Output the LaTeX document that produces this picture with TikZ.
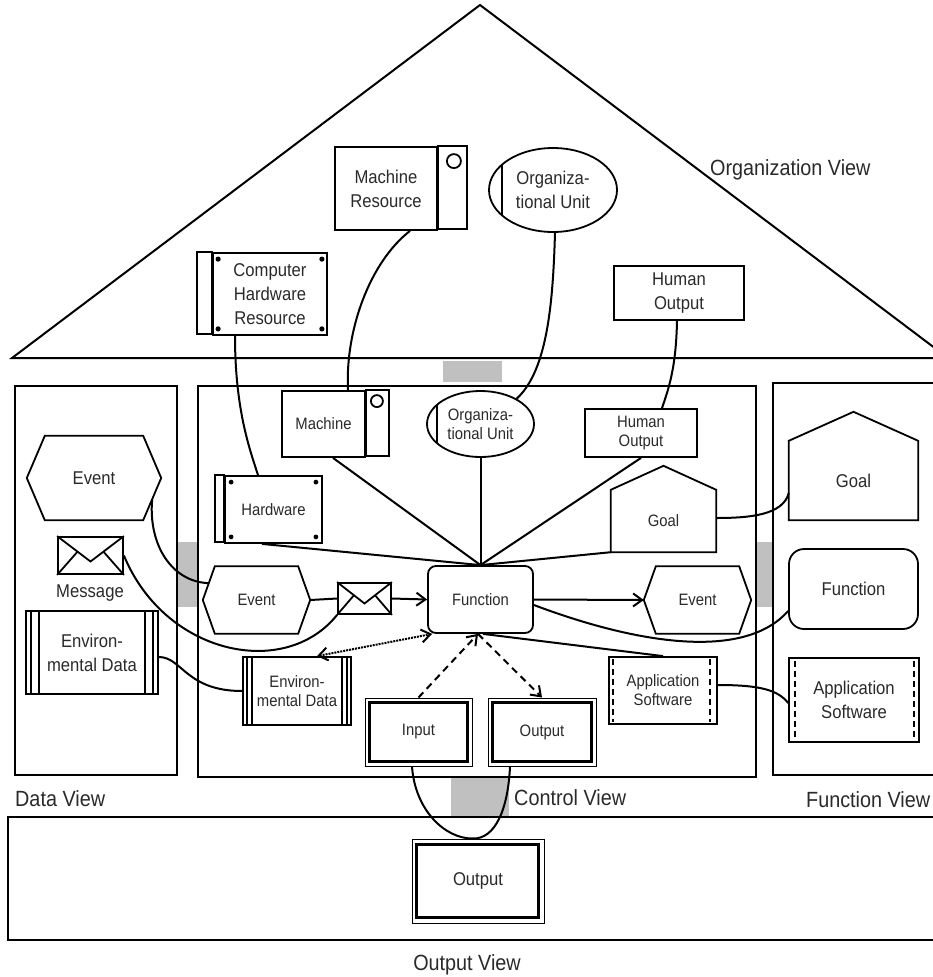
\documentclass[tikz,border=0pt]{standalone}
\usepackage{fontspec}
\setmainfont{Liberation Sans}[FakeStretch=0.9]
\usetikzlibrary{arrows.meta,calc,shapes.geometric}
\definecolor{greyfill}{HTML}{C0C0C0}
\definecolor{txt}{HTML}{2A2A2A}
\begin{document}
\begin{tikzpicture}[x=1pt,y=-1pt,
  box/.style={draw, line width=1.8pt, inner sep=0pt, align=center, text=txt},
  ghost/.style={inner sep=0pt, align=center, text=txt},
  big/.style={font=\fontsize{18.5}{24}\selectfont},
  small/.style={font=\fontsize{16.5}{19}\selectfont},
  viewlbl/.style={font=\fontsize{22}{24}\selectfont, text=txt, inner sep=0pt},
  viewbox/.style={draw, line width=1.5pt},
  conn/.style={line width=2pt},
  edge/.style={line width=1.8pt, line join=miter},
  barb/.style={-{Straight Barb[length=9pt,width=13pt]}},
  dualbarb/.style={{Straight Barb[length=9pt,width=13pt]}-{Straight Barb[length=9pt,width=13pt]}},
]
\clip (0,0) rectangle (933,977);
\fill[white] (0,0) rectangle (933,977);

% roof
\draw[line width=2pt, line join=miter] (12,358) -- (480,5) -- (948,358) -- cycle;

% gray connectors between views
\fill[greyfill] (443,361) rectangle (502,382);
\fill[greyfill] (177,542) rectangle (198,607);
\fill[greyfill] (756,542) rectangle (773,607);
\fill[greyfill] (451,777) rectangle (509,817);

% view boxes
\draw[viewbox] (15,386) rectangle (177,775);
\draw[viewbox] (198,386) rectangle (756,777);
\draw[viewbox] (773,383) rectangle (945,775);
\draw[viewbox] (8,817) rectangle (945,940);

% ---------- organization view (roof) ----------
\node[box,big,minimum width=102pt,minimum height=83pt] (mres) at (386,188.5) {Machine\\Resource};
\draw[edge] (mres.north east) rectangle ++(29,83);
\draw[edge] ($(mres.north east)+(16,15)$) circle (7pt);

\node[box,big,ellipse,minimum width=128pt,minimum height=84pt] (ores) at (553,190) {Organiza-\\tional Unit};
\draw[edge] ($(ores.center)+(-51,-25)$) -- ($(ores.center)+(-51,25)$);

\node[box,big,minimum width=114pt,minimum height=82pt] (chr) at (270,294) {Computer\\Hardware\\Resource};
\draw[edge] (chr.north west) rectangle ++(-15,82);
\fill ($(chr.north west)+(6,7)$) circle (2.6pt);
\fill ($(chr.north east)+(-6,7)$) circle (2.6pt);
\fill ($(chr.south west)+(6,-7)$) circle (2.6pt);
\fill ($(chr.south east)+(-6,-7)$) circle (2.6pt);

\node[box,big,minimum width=130pt,minimum height=54pt] (hres) at (679,293) {Human\\Output};

% ---------- control view ----------
\node[box,small,minimum width=83pt,minimum height=66pt] (mach) at (323.5,424) {Machine};
\draw[edge] (mach.north east) rectangle ++(23,66);
\draw[edge] ($(mach.north east)+(11,11)$) circle (6pt);

\node[box,small,ellipse,minimum width=107pt,minimum height=66pt] (ounit) at (480.5,424) {Organiza-\\tional Unit};
\draw[edge] ($(ounit.center)+(-43.5,-19)$) -- ($(ounit.center)+(-43.5,19)$);

\node[box,small,minimum width=112pt,minimum height=48pt] (hout) at (641,433) {Human\\Output};

\node[box,small,minimum width=97pt,minimum height=67pt] (hw) at (273.5,509.5) {Hardware};
\draw[edge] (hw.north west) rectangle ++(-9,67);
\fill ($(hw.north west)+(7,7)$) circle (2.4pt);
\fill ($(hw.north east)+(-7,7)$) circle (2.4pt);
\fill ($(hw.south west)+(7,-7)$) circle (2.4pt);
\fill ($(hw.south east)+(-7,-7)$) circle (2.4pt);

\node[ghost,small,minimum width=105pt,minimum height=62pt] (goal) at (663.5,521) {Goal};
\draw[edge] (goal.south west) -- (goal.north west) -- ($(goal.north)+(0,-24)$) -- (goal.north east) -- (goal.south east) -- cycle;

\node[ghost,small,minimum width=83pt,minimum height=67pt] (ev1) at (256.5,600) {Event};
\coordinate (ev1L) at ($(ev1.west)+(-12,0)$);
\coordinate (ev1R) at ($(ev1.east)+(12,0)$);
\draw[edge] (ev1.north west) -- (ev1.north east) -- (ev1R) -- (ev1.south east) -- (ev1.south west) -- (ev1L) -- cycle;

\node[box,minimum width=53pt,minimum height=31pt] (msg1) at (364.5,598.5) {};
\draw[edge] (msg1.north west) -- ($(msg1.center)+(0,5)$) -- (msg1.north east);
\draw[edge] (msg1.south west) -- ($(msg1.center)+(-10.6,-3.2)$);
\draw[edge] (msg1.south east) -- ($(msg1.center)+(10.6,-3.2)$);

\node[box,small,rounded corners=8pt,minimum width=105pt,minimum height=67pt] (fn) at (480.5,599.5) {Function};

\node[ghost,small,minimum width=83pt,minimum height=67pt] (ev2) at (697.5,600) {Event};
\coordinate (ev2L) at ($(ev2.west)+(-12,0)$);
\draw[edge] (ev2.north west) -- (ev2.north east) -- ($(ev2.east)+(12,0)$) -- (ev2.south east) -- (ev2.south west) -- (ev2L) -- cycle;

\node[box,small,minimum width=108pt,minimum height=68pt] (envc) at (297,691) {Environ-\\mental Data};
\foreach \d in {5,10} {
  \draw[line width=1.5pt] ($(envc.north west)+(\d,0)$) -- ($(envc.south west)+(\d,0)$);
  \draw[line width=1.5pt] ($(envc.north east)+(-\d,0)$) -- ($(envc.south east)+(-\d,0)$);
}

\node[draw,line width=1pt,inner sep=0pt,minimum width=107pt,minimum height=68pt,small,text=txt] (inp) at (418.5,732) {Input};
\draw[line width=2.2pt] ($(inp.north west)+(5,5)$) rectangle ($(inp.south east)+(-5,-5)$);

\node[draw,line width=1pt,inner sep=0pt,minimum width=108pt,minimum height=68pt,small,text=txt] (outc) at (542,732) {Output};
\draw[line width=2.2pt] ($(outc.north west)+(5,5)$) rectangle ($(outc.south east)+(-5,-5)$);

\node[box,small,minimum width=108pt,minimum height=67pt] (appc) at (663,690.5) {Application\\Software};
\draw[line width=1.8pt, dash pattern=on 6pt off 4pt] ($(appc.north west)+(5,3)$) -- ($(appc.south west)+(5,-3)$);
\draw[line width=1.8pt, dash pattern=on 6pt off 4pt] ($(appc.north east)+(-8,3)$) -- ($(appc.south east)+(-8,-3)$);

% ---------- data view ----------
\node[ghost,big,minimum width=98pt,minimum height=84pt] (evd) at (94,478) {Event};
\coordinate (evdR) at ($(evd.east)+(18,0)$);
\draw[edge] (evd.north west) -- (evd.north east) -- (evdR) -- (evd.south east) -- (evd.south west) -- ($(evd.west)+(-18,0)$) -- cycle;
\coordinate (evdA) at ($(evdR)!0.5!(evd.south east)$);

\node[box,minimum width=65pt,minimum height=37pt] (msgd) at (90.5,555.5) {};
\draw[edge] (msgd.north west) -- ($(msgd.center)+(0,6)$) -- (msgd.north east);
\draw[edge] (msgd.south west) -- ($(msgd.center)+(-13,-3.8)$);
\draw[edge] (msgd.south east) -- ($(msgd.center)+(13,-3.8)$);
\node[ghost,big] (msgl) at (90,593) {Message};

\node[box,big,minimum width=132pt,minimum height=83pt] (envd) at (92,652.5) {Environ-\\mental Data};
\foreach \d in {6,14} {
  \draw[line width=1.6pt] ($(envd.north west)+(\d,0)$) -- ($(envd.south west)+(\d,0)$);
  \draw[line width=1.6pt] ($(envd.north east)+(-\d,0)$) -- ($(envd.south east)+(-\d,0)$);
}

% ---------- function view ----------
\node[ghost,big,minimum width=129pt,minimum height=79pt] (gfv) at (853.5,480.5) {Goal};
\draw[edge] (gfv.south west) -- (gfv.north west) -- ($(gfv.north)+(0,-29)$) -- (gfv.north east) -- (gfv.south east) -- cycle;

\node[box,big,rounded corners=15pt,minimum width=129pt,minimum height=80pt] (ffv) at (853.5,589) {Function};

\node[box,big,minimum width=130pt,minimum height=84pt] (afv) at (854,700) {Application\\Software};
\draw[line width=1.8pt, dash pattern=on 6pt off 4pt] ($(afv.north west)+(7,4)$) -- ($(afv.south west)+(7,-4)$);
\draw[line width=1.8pt, dash pattern=on 6pt off 4pt] ($(afv.north east)+(-6,4)$) -- ($(afv.south east)+(-6,-4)$);

% ---------- output view ----------
\node[draw,line width=1pt,inner sep=0pt,minimum width=132pt,minimum height=84pt,big,text=txt] (outb) at (478,881) {Output};
\draw[line width=2.2pt] ($(outb.north west)+(5,6)$) rectangle ($(outb.south east)+(-6,-6)$);

% ---------- view labels ----------
\node[viewlbl,anchor=west] (orgv) at (710,170) {Organization View};
\node[viewlbl,anchor=west] (datav) at (15,799) {Data View};
\node[viewlbl,anchor=west] (ctrlv) at (514,798) {Control View};
\node[viewlbl,anchor=west] (funcv) at (806,800) {Function View};
\node[viewlbl] (outv) at (467,965) {Output View};

% ---------- connectors ----------
\draw[conn] ($(mres.south)+(24,0)$) .. controls (370,262) and (345,330) .. ($(mach.north)+(24.5,0)$);
\draw[conn] ($(ores.south)+(2,0)$) .. controls (553,300) and (548,370) .. (ounit.35);
\draw[conn] ($(chr.south)+(-35,0)$) .. controls (235,410) and (250,450) .. ($(hw.north)+(-15.5,0)$);
\draw[conn] ($(hres.south)+(-2,0)$) .. controls (676,370) and (668,390) .. ($(hout.north)+(21,0)$);

\draw[conn] ($(mach.south)+(9.5,0)$) -- (fn.north);
\draw[conn] ($(ounit.south)+(0.5,0)$) -- ($(fn.north)+(0.5,0)$);
\draw[conn] (hout.south) -- (fn.north);
\draw[conn] ($(hw.south)+(-11.5,0)$) -- (fn.north);
\draw[conn] (goal.south west) -- (fn.north);

\draw[conn] (ev1R) -- (msg1.west);
\draw[conn,barb] (msg1.east) -- (fn.west);
\draw[conn,barb] (fn.east) -- (ev2L);

\coordinate (ev1A) at ($(ev1L)!0.5!(ev1.north west)$);
\draw[conn] (evdA) .. controls (148,545) and (172,582) .. (ev1A);
\draw[conn] (msgd.east) .. controls (165,655) and (285,680) .. (msg1.south west);
\draw[conn] ($(envd.east)+(0,4.5)$) .. controls (182,657) and (186,691) .. (envc.west);

\draw[line width=2pt, densely dotted, dualbarb] ($(envc.north)+(20,0)$) -- ($(fn.south west)+(5,0)$);
\draw[line width=2pt, dash pattern=on 7pt off 5pt, barb] (inp.north) -- ($(fn.south)+(-2.5,0)$);
\draw[line width=2pt, dash pattern=on 7pt off 5pt, barb] ($(fn.south)+(-2.5,0)$) -- (outc.north);
\draw[conn] ($(fn.south)+(2.5,0)$) -- (appc.north);

\draw[conn] ($(fn.east)+(0,5.5)$) .. controls (640,645) and (745,660) .. ($(ffv.west)+(0,22)$);
\draw[conn] ($(goal.east)+(0,-3)$) .. controls (750,518) and (783,515) .. ($(gfv.west)+(0,12.5)$);
\draw[conn] ($(appc.east)+(0,-5.5)$) .. controls (760,685) and (778,690) .. ($(afv.west)+(0,3)$);

\draw[conn] ($(inp.south)+(-6.5,0)$) .. controls (415,810) and (445,839) .. ($(outb.north)+(-5,0)$);
\draw[conn] ($(outc.south)+(-32,0)$) .. controls (508,810) and (495,839) .. ($(outb.north)+(-5,0)$);
\end{tikzpicture}
\end{document}
